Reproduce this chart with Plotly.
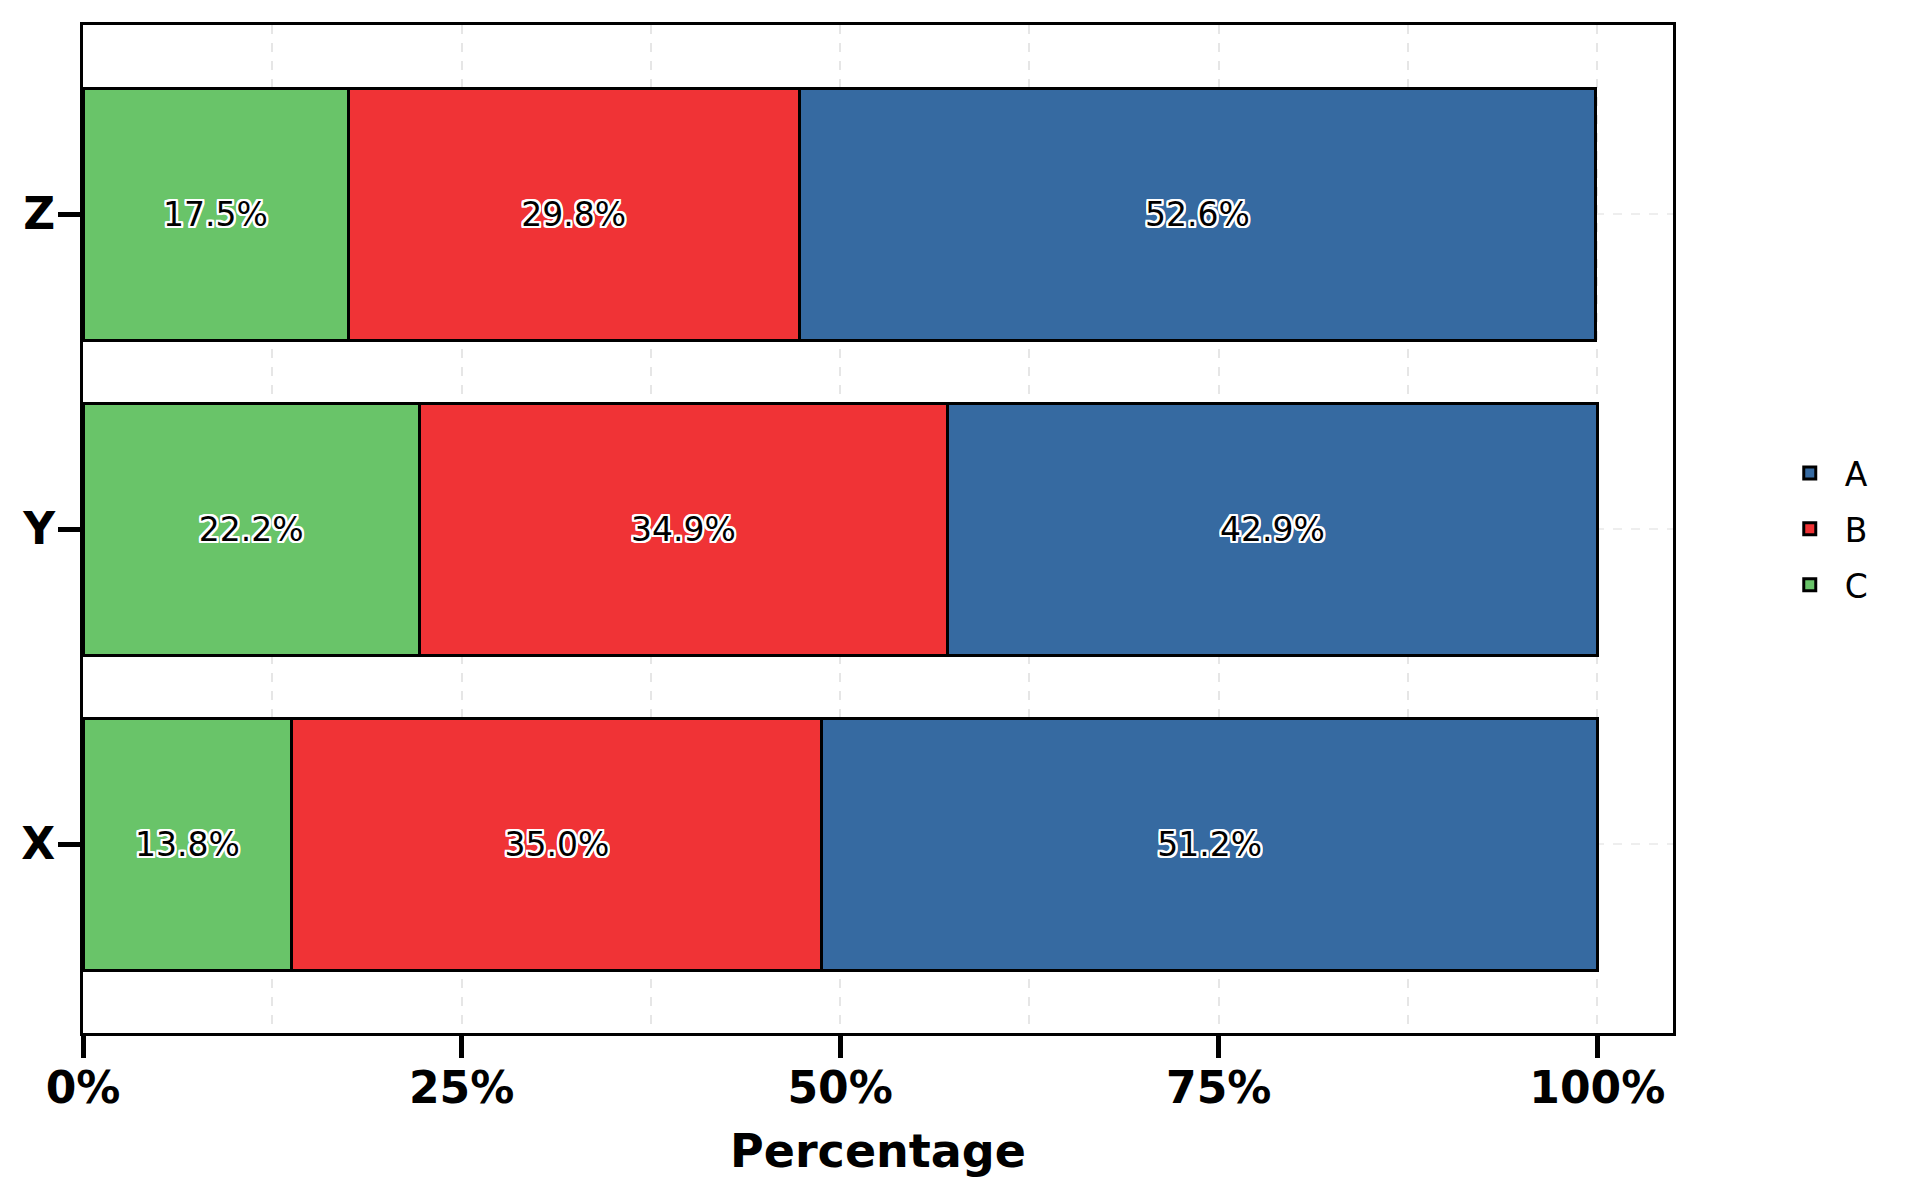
import plotly.graph_objects as go

categories = ["X", "Y", "Z"]
series_names = ["A", "B", "C"]
values_A = [51.2, 42.9, 52.6]
values_B = [35.0, 34.9, 29.8]
values_C = [13.8, 22.2, 17.5]
x_tick_vals = [0, 25, 50, 75, 100]
x_tick_text = ["0%", "25%", "50%", "75%", "100%"]

colors = {"A": "#366aa1", "B": "#f03336", "C": "#69c469"}
series = {"A": values_A, "B": values_B, "C": values_C}

FONT = "DejaVu Sans"
outline = ", ".join(f"{dx}px {dy}px 0 white" for dx in (-2, -1, 0, 1, 2) for dy in (-2, -1, 0, 1, 2) if (dx, dy) != (0, 0))

fig = go.Figure()
for name in ["C", "B", "A"]:
    vals = series[name]
    fig.add_trace(go.Bar(
        y=categories, x=vals, name=name, orientation="h", width=0.8,
        legendgroup=name, legendrank=series_names.index(name) + 1,
        marker=dict(color=colors[name], line=dict(color="black", width=3)),
        text=[f"{v:.1f}%" for v in vals],
        textposition="inside", insidetextanchor="middle", textangle=0,
        constraintext="none",
        insidetextfont=dict(family=FONT, size=33, color="black", shadow=outline),
        hoverinfo="x+y+name",
    ))

fig.update_layout(
    barmode="stack",
    width=1920, height=1200,
    margin=dict(l=83, r=247, t=25, b=167),
    paper_bgcolor="white", plot_bgcolor="white",
    font=dict(family=FONT, color="black"),
    legend=dict(x=1.064, xanchor="left", y=0.5, yanchor="middle",
                traceorder="grouped", font=dict(family=FONT, size=33),
                bgcolor="rgba(0,0,0,0)", tracegroupgap=10, itemwidth=60),
    xaxis=dict(
        range=[0, 105], tickvals=x_tick_vals, ticktext=x_tick_text,
        ticks="outside", ticklen=22, tickwidth=5, tickcolor="black",
        tickfont=dict(family=FONT, size=44, weight="bold"), ticklabelstandoff=-8,
        showline=True, linewidth=3, linecolor="black", mirror=True,
        showgrid=True, gridcolor="#e6e6e6", griddash="dash", gridwidth=1.5,
        minor=dict(dtick=12.5, tick0=0, showgrid=True, gridcolor="#e6e6e6", griddash="dash", gridwidth=1.5, ticks=""),
        zeroline=False,
        title=dict(text="Percentage", font=dict(family=FONT, size=46, weight="bold"), standoff=24),
        automargin=False,
    ),
    yaxis=dict(
        range=[-0.6, 2.6], categoryorder="array", categoryarray=categories,
        ticks="outside", ticklen=22, tickwidth=5, tickcolor="black",
        tickfont=dict(family=FONT, size=44, weight="bold"), ticklabelstandoff=-6,
        showline=True, linewidth=3, linecolor="black", mirror=True,
        showgrid=True, gridcolor="#eeeeee", griddash="dash", gridwidth=1.5,
        zeroline=False, automargin=False,
    ),
)

fig.write_html("out.html", config={"displayModeBar": False},
               post_script="document.body.style.margin='0';")
